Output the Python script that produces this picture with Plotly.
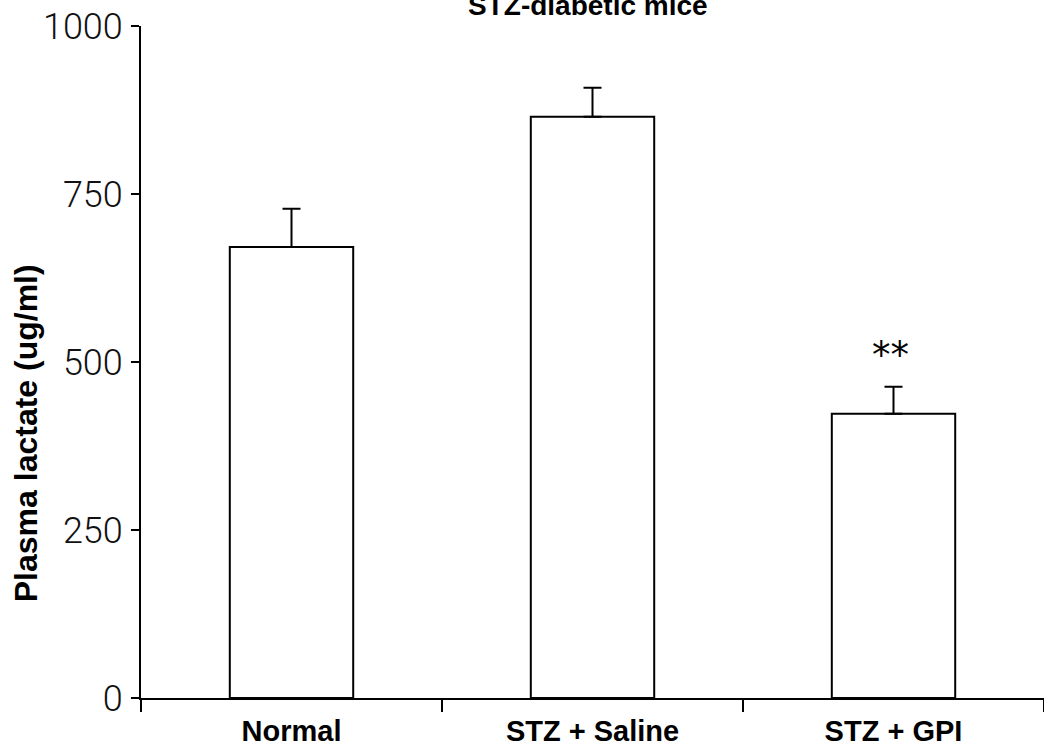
import plotly.graph_objects as go

# Plasma lactate in STZ-diabetic mice (mean + SEM)
groups = ["Normal", "STZ + Saline", "STZ + GPI"]
lactate_mean = [671, 865, 423]
lactate_sem = [57, 43, 40]
significance = ["", "", "**"]

y_ticks = [0, 250, 500, 750, 1000]

BOLD_FONT = "Liberation Sans, Arial, sans-serif"
TICK_FONT = "Roboto, Liberation Sans, sans-serif"

fig = go.Figure()
fig.add_trace(
    go.Bar(
        x=groups,
        y=lactate_mean,
        width=0.41,
        marker=dict(color="white", line=dict(color="black", width=2)),
        error_y=dict(
            type="data",
            symmetric=False,
            array=lactate_sem,
            arrayminus=[0] * len(lactate_sem),
            color="black",
            thickness=2,
            width=9,
        ),
        showlegend=False,
    )
)

# significance markers above the error bars
for g, m, s, mark in zip(groups, lactate_mean, lactate_sem, significance):
    if mark:
        fig.add_annotation(
            x=g, y=m + s, text=mark, showarrow=False,
            xref="x", yref="y", yanchor="middle", yshift=31, xshift=-3,
            font=dict(family="DejaVu Sans", size=37, color="black"),
        )

# chart title, partly above the top edge
fig.add_annotation(
    text="<b>STZ-diabetic mice</b>", x=0.5, xref="paper", y=1, yref="paper",
    xanchor="center", yanchor="bottom", xshift=-5, yshift=3, showarrow=False,
    font=dict(family=BOLD_FONT, size=28, color="black"),
)

# y-axis title
fig.add_annotation(
    text="<b>Plasma lactate (ug/ml)</b>", x=0, xref="paper", y=0.394, yref="paper",
    xanchor="center", yanchor="middle", xshift=-115, textangle=-90, showarrow=False,
    font=dict(family=BOLD_FONT, size=32, color="black"),
)

fig.update_layout(
    width=1044,
    height=751,
    margin=dict(l=141, r=0, t=26, b=53),
    paper_bgcolor="white",
    plot_bgcolor="white",
    xaxis=dict(
        range=[-0.5, 2.5],
        showline=True, linecolor="black", linewidth=2,
        ticks="outside", tickson="boundaries", ticklen=12, tickwidth=2, tickcolor="black",
        showgrid=False, zeroline=False,
        tickfont=dict(family=BOLD_FONT, size=29, color="black"),
        ticklabelstandoff=6,
    ),
    yaxis=dict(
        range=[0, 1000],
        tickvals=y_ticks,
        ticktext=[str(v) for v in y_ticks],
        showline=True, linecolor="black", linewidth=2,
        ticks="outside", ticklen=8, tickwidth=2, tickcolor="black",
        showgrid=False, zeroline=False,
        tickfont=dict(family=TICK_FONT, size=36, color="#111111", weight=300),
        ticklabelstandoff=1,
    ),
)
fig.update_xaxes(tickprefix="<b>", ticksuffix="</b>")

fig.write_html("out.html")
